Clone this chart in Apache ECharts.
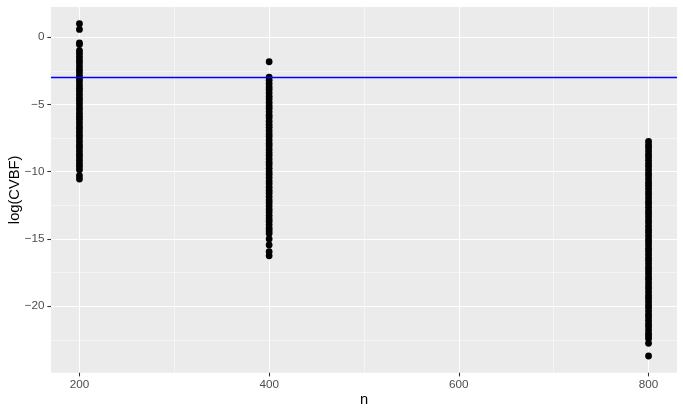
<!DOCTYPE html>
<html>
<head>
<meta charset="utf-8">
<script src="https://cdn.jsdelivr.net/npm/echarts@6/dist/echarts.min.js"></script>
<style>html,body{margin:0;padding:0;background:#fff}#c{width:683px;height:415px}</style>
</head>
<body>
<div id="c"></div>
<script>
// Data (log(CVBF) values per sample size n)
var nValues = [200, 400, 800];
var cvbf200 = [1.0, 0.57, -0.42, -0.55, -1.0, -1.2, -1.45, -1.7, -1.9, -2.15, -2.4, -2.6, -2.85, -3.1, -3.3, -3.55, -3.8, -4.0, -4.25, -4.5, -4.7, -4.95, -5.2, -5.4, -5.65, -5.9, -6.1, -6.35, -6.6, -6.8, -7.05, -7.3, -7.5, -7.75, -8.0, -8.2, -8.45, -8.7, -8.9, -9.15, -9.4, -9.6, -9.85, -10.3, -10.55];
var cvbf400 = [-1.83, -2.97, -3.2, -3.45, -3.7, -3.9, -4.15, -4.4, -4.6, -4.85, -5.1, -5.3, -5.55, -5.8, -6.0, -6.25, -6.5, -6.7, -6.95, -7.2, -7.4, -7.65, -7.9, -8.1, -8.35, -8.6, -8.8, -9.05, -9.3, -9.5, -9.75, -10.0, -10.2, -10.45, -10.7, -10.9, -11.15, -11.4, -11.6, -11.85, -12.1, -12.3, -12.55, -12.8, -13.0, -13.25, -13.5, -13.7, -13.95, -14.2, -14.4, -14.6, -15.0, -15.45, -15.95, -16.25];
var cvbf800 = [-7.75, -8.0, -8.2, -8.45, -8.7, -8.9, -9.15, -9.4, -9.6, -9.85, -10.1, -10.3, -10.55, -10.8, -11.0, -11.25, -11.5, -11.7, -11.95, -12.2, -12.4, -12.65, -12.9, -13.1, -13.35, -13.6, -13.8, -14.05, -14.3, -14.5, -14.75, -15.0, -15.2, -15.45, -15.7, -15.9, -16.15, -16.4, -16.6, -16.85, -17.1, -17.3, -17.55, -17.8, -18.0, -18.25, -18.5, -18.7, -18.95, -19.2, -19.4, -19.65, -19.9, -20.1, -20.35, -20.6, -20.8, -21.05, -21.3, -21.5, -21.75, -22.0, -22.2, -22.4, -22.75, -23.7];
var thresholdY = -3;
var xMajorTicks = [200, 400, 600, 800];
var xMinorTicks = [300, 500, 700];
var yMajorTicks = [-20, -15, -10, -5, 0];
var yMinorTicks = [-22.5, -17.5, -12.5, -7.5, -2.5];

var points = [];
[cvbf200, cvbf400, cvbf800].forEach(function (arr, i) {
  arr.forEach(function (v) { points.push([nValues[i], v]); });
});

var xMin = 170, xMax = 830, yMin = -24.94, yMax = 2.24;
var labelStyle = { color: '#4D4D4D', fontSize: 11.7, fontFamily: 'Liberation Sans' };
var nameStyle = { color: '#000000', fontSize: 14.7, fontFamily: 'Liberation Sans' };
var chart = echarts.init(document.getElementById('c'));
chart.setOption({
  animation: false,
  backgroundColor: '#ffffff',
  color: ['#000000', 'rgb(0,0,255)'],
  grid: { left: 51, right: 6, top: 7, bottom: 42.3, show: true, backgroundColor: '#EBEBEB', borderWidth: 0, containLabel: false, outerBoundsMode: 'none' },
  xAxis: [{
    type: 'value', min: xMin, max: xMax,
    name: 'n', nameLocation: 'middle', nameGap: 20, nameMoveOverlap: false,
    nameTextStyle: nameStyle,
    axisLine: { show: false, onZero: false },
    axisTick: { show: true, length: 3.7, lineStyle: { color: '#333333', width: 1.07 }, customValues: xMajorTicks },
    axisLabel: Object.assign({ margin: 6.5, customValues: xMajorTicks }, labelStyle),
    splitLine: { show: true, lineStyle: { color: '#ffffff', width: 1.07 } },
    z: 1
  }, {
    type: 'value', min: xMin, max: xMax, position: 'bottom',
    axisLine: { show: false, onZero: false },
    axisTick: { show: false, customValues: xMinorTicks },
    axisLabel: { show: false, customValues: xMinorTicks },
    splitLine: { show: true, lineStyle: { color: '#ffffff', width: 0.53 } }
  }],
  yAxis: [{
    type: 'value', min: yMin, max: yMax,
    name: 'log(CVBF)', nameLocation: 'middle', nameGap: 29, nameRotate: 90, nameMoveOverlap: false,
    nameTextStyle: nameStyle,
    axisLine: { show: false, onZero: false },
    axisTick: { show: true, length: 3.7, lineStyle: { color: '#333333', width: 1.07 }, customValues: yMajorTicks },
    axisLabel: Object.assign({ margin: 6.5, customValues: yMajorTicks, formatter: function (v) { return v < 0 ? '\u2212' + Math.abs(v) : String(v); } }, labelStyle),
    splitLine: { show: true, lineStyle: { color: '#ffffff', width: 1.07 } }
  }, {
    type: 'value', min: yMin, max: yMax, position: 'left',
    axisLine: { show: false, onZero: false },
    axisTick: { show: false, customValues: yMinorTicks },
    axisLabel: { show: false, customValues: yMinorTicks },
    splitLine: { show: true, lineStyle: { color: '#ffffff', width: 0.53 } }
  }],
  series: [{
    type: 'scatter',
    data: points,
    symbol: 'circle',
    symbolSize: 6.8,
    itemStyle: { color: '#000000', opacity: 1 },
    silent: true,
    z: 3
  }, {
    type: 'line',
    data: [[xMin, thresholdY], [xMax, thresholdY]],
    showSymbol: false,
    symbol: 'none',
    silent: true,
    color: 'rgb(0,0,255)',
    lineStyle: { color: 'rgb(0,0,255)', width: 1.3, type: 'solid', opacity: 1 },
    itemStyle: { color: 'rgb(0,0,255)' },
    z: 4
  }]
});
</script>
</body>
</html>
